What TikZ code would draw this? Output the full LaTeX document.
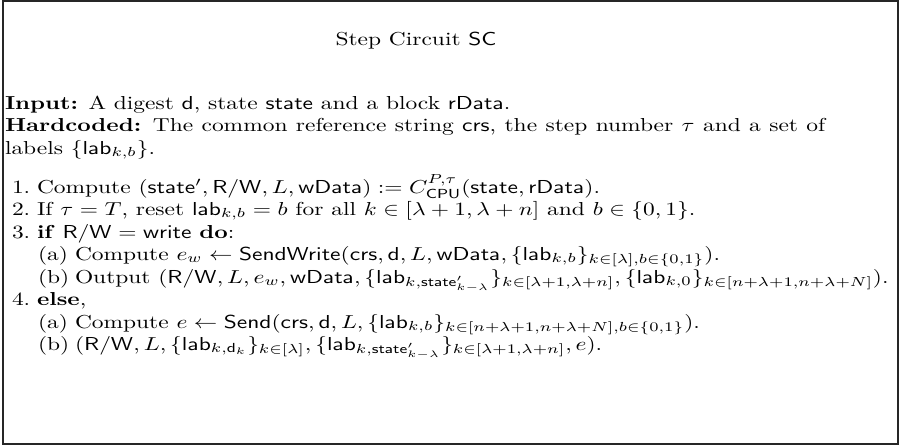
\documentclass[tikz,border=0pt]{standalone}
\usepackage{amsmath,amssymb}
\newcommand{\sfm}[1]{\mathsf{#1}}
\tikzset{
  ln/.style={anchor=base west, inner sep=0pt, outer sep=0pt, xscale=1.25},
  frm/.style={draw=black!85, line width=0.7pt}
}
\begin{document}
\begin{tikzpicture}[x=0.5333pt,y=-0.5333pt]
\useasboundingbox (0,0) rectangle (902,447);
\draw[frm] (3,1) rectangle (898,444);
\node[anchor=base, inner sep=0pt, xscale=1.25] (title) at (416,46) {Step Circuit $\sfm{SC}$};
\node[ln] (in) at (5,110) {\textbf{Input:} A digest $\sfm{d}$, state $\sfm{state}$ and a block $\sfm{rData}$.};
\node[ln] (hc) at (5,132) {\makebox[350pt][s]{\textbf{Hardcoded:} The common reference string $\sfm{crs}$, the step number $\tau$ and a set of}};
\node[ln] (lb) at (5,154) {labels $\{\sfm{lab}_{k,b}\}$.};
\node[ln] (n1) at (12,193) {1.};
\node[ln] (t1) at (37,193) {Compute $(\sfm{state}', \sfm{R/W}, L, \sfm{wData}) := C_{\sfm{CPU}}^{P,\tau}(\sfm{state}, \sfm{rData})$.};
\node[ln] (n2) at (12,215) {2.};
\node[ln] (t2) at (37,215) {If $\tau = T$, reset $\sfm{lab}_{k,b} = b$ for all $k \in [\lambda+1, \lambda+n]$ and $b \in \{0,1\}$.};
\node[ln] (n3) at (12,238) {3.};
\node[ln] (t3) at (37,238) {\textbf{if} $\sfm{R/W} = \sfm{write}$ \textbf{do}:};
\node[ln] (n3a) at (38,260) {(a)};
\node[ln] (t3a) at (75,260) {Compute $e_w \leftarrow \sfm{SendWrite}(\sfm{crs}, \sfm{d}, L, \sfm{wData}, \{\sfm{lab}_{k,b}\}_{k\in[\lambda], b\in\{0,1\}})$.};
\node[ln] (n3b) at (38,283) {(b)};
\node[ln] (t3b) at (75,283) {Output $(\sfm{R/W}, L, e_w, \sfm{wData}, \{\sfm{lab}_{k,\sfm{state}'_{k-\lambda}}\}_{k\in[\lambda+1,\lambda+n]}, \{\sfm{lab}_{k,0}\}_{k\in[n+\lambda+1, n+\lambda+N]})$.};
\node[ln] (n4) at (12,305) {4.};
\node[ln] (t4) at (37,305) {\textbf{else},};
\node[ln] (n4a) at (38,328) {(a)};
\node[ln] (t4a) at (75,328) {Compute $e \leftarrow \sfm{Send}(\sfm{crs}, \sfm{d}, L, \{\sfm{lab}_{k,b}\}_{k\in[n+\lambda+1,n+\lambda+N], b\in\{0,1\}})$.};
\node[ln] (n4b) at (38,350) {(b)};
\node[ln] (t4b) at (75,350) {$(\sfm{R/W}, L, \{\sfm{lab}_{k,\sfm{d}_k}\}_{k\in[\lambda]}, \{\sfm{lab}_{k,\sfm{state}'_{k-\lambda}}\}_{k\in[\lambda+1,\lambda+n]}, e)$.};
\end{tikzpicture}
\end{document}
